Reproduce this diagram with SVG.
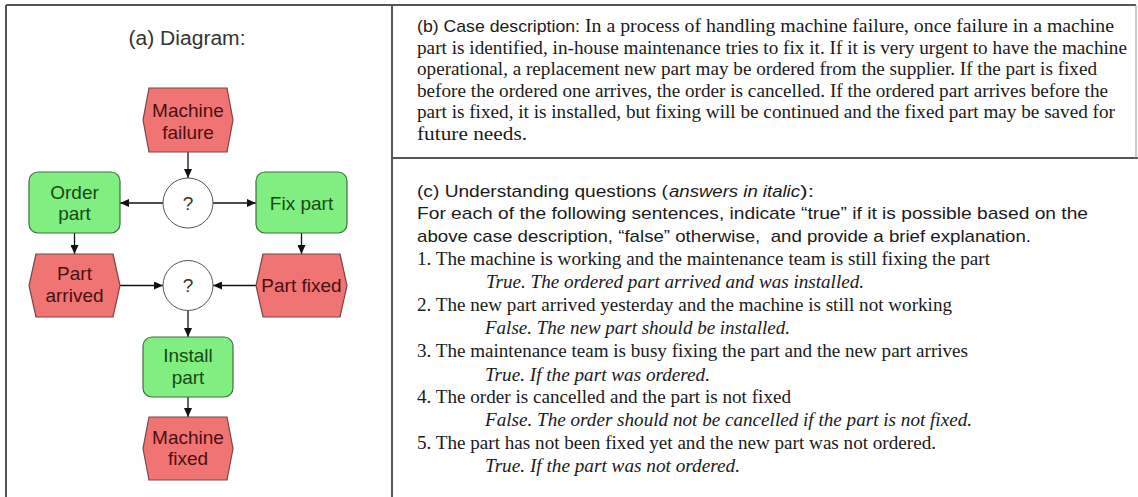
<svg xmlns="http://www.w3.org/2000/svg" width="1138" height="497" viewBox="0 0 1138 497">
<style>
.frame{stroke:#555;stroke-width:2;fill:none}
.hex{fill:#f07474;stroke:#7a4444;stroke-width:1.2}
.act{fill:#80ee80;stroke:#3f703f;stroke-width:1.2}
.gate{fill:#fff;stroke:#555;stroke-width:1}
.lbl{font-family:"Liberation Sans",Arial,sans-serif;font-size:19px;text-anchor:middle}
.rt{fill:#4a1010}
.gt{fill:#154a15}
.qt{fill:#333}
.conn path{stroke:#111;stroke-width:1.3;fill:none;marker-end:url(#ah)}
.sans{font-family:"Liberation Sans",Arial,sans-serif;font-size:17px;fill:#1a1a1a}
.serif{font-family:"Liberation Serif","Times New Roman",serif;font-size:18px;fill:#1a1a1a}
.it{font-style:italic}
</style>
<defs>
<marker id="ah" markerUnits="userSpaceOnUse" markerWidth="9" markerHeight="8" refX="9" refY="4" orient="auto">
<path d="M0,0 L9,4 L0,8 z" fill="#111"/>
</marker>
</defs>
<rect width="1138" height="497" fill="#fff"/>
<g id="frame">
<path class="frame" d="M6,5 H1136 M6,5 V497 M392,5 V497 M392,158 H1138"/>
<path d="M1136,5 V158" stroke="#999" stroke-width="1" fill="none"/>
</g>
<text class="lbl qt" x="187" y="45" textLength="117" lengthAdjust="spacingAndGlyphs" style="font-size:20px">(a) Diagram:</text>
<g class="conn" id="connectors">
<path d="M188,152 V178"/>
<path d="M163,203 H120"/>
<path d="M213,203 H256"/>
<path d="M74.5,233 V254"/>
<path d="M301.5,233 V254"/>
<path d="M120,285.5 H163"/>
<path d="M256,285.5 H213"/>
<path d="M188,310 V337"/>
<path d="M188,397 V417"/>
</g>
<g id="machine-failure">
<polygon class="hex" points="149,88 227,88 233,120 227,152 149,152 143,120"/>
<text class="lbl rt" x="188" y="117">Machine</text>
<text class="lbl rt" x="188" y="139">failure</text>
</g>
<g id="gate1">
<circle class="gate" cx="188" cy="203" r="25"/>
<text class="lbl qt" x="188" y="210">?</text>
</g>
<g id="order-part">
<rect class="act" x="29" y="172" width="91" height="61" rx="9"/>
<text class="lbl gt" x="74.5" y="199">Order</text>
<text class="lbl gt" x="74.5" y="220">part</text>
</g>
<g id="fix-part">
<rect class="act" x="256" y="172" width="91" height="61" rx="9"/>
<text class="lbl gt" x="301.5" y="210">Fix part</text>
</g>
<g id="part-arrived">
<polygon class="hex" points="36,254 113,254 120,285.5 113,317 36,317 29,285.5"/>
<text class="lbl rt" x="74.5" y="280">Part</text>
<text class="lbl rt" x="74.5" y="302">arrived</text>
</g>
<g id="gate2">
<circle class="gate" cx="188" cy="285.5" r="25"/>
<text class="lbl qt" x="188" y="292">?</text>
</g>
<g id="part-fixed">
<polygon class="hex" points="263,254 340,254 347,285.5 340,317 263,317 256,285.5"/>
<text class="lbl rt" x="301.5" y="292">Part fixed</text>
</g>
<g id="install-part">
<rect class="act" x="143" y="337" width="90" height="60" rx="9"/>
<text class="lbl gt" x="188" y="362">Install</text>
<text class="lbl gt" x="188" y="384">part</text>
</g>
<g id="machine-fixed">
<polygon class="hex" points="149,417 227,417 233,448.5 227,480 149,480 143,448.5"/>
<text class="lbl rt" x="188" y="444">Machine</text>
<text class="lbl rt" x="188" y="465">fixed</text>
</g>
<g id="case-description">
<text class="sans" x="417" y="32" textLength="163" lengthAdjust="spacingAndGlyphs">(b) Case description:</text>
<text class="serif" x="585" y="32" textLength="529" lengthAdjust="spacingAndGlyphs">In a process of handling machine failure, once failure in a machine</text>
<text class="serif" x="417" y="53.5" textLength="710" lengthAdjust="spacingAndGlyphs">part is identified, in-house maintenance tries to fix it. If it is very urgent to have the machine</text>
<text class="serif" x="417" y="75" textLength="680" lengthAdjust="spacingAndGlyphs">operational, a replacement new part may be ordered from the supplier. If the part is fixed</text>
<text class="serif" x="417" y="96.5" textLength="691" lengthAdjust="spacingAndGlyphs">before the ordered one arrives, the order is cancelled. If the ordered part arrives before the</text>
<text class="serif" x="417" y="118" textLength="698" lengthAdjust="spacingAndGlyphs">part is fixed, it is installed, but fixing will be continued and the fixed part may be saved for</text>
<text class="serif" x="417" y="139.5" textLength="110" lengthAdjust="spacingAndGlyphs">future needs.</text>
</g>
<g id="questions">
<text class="sans" x="417" y="197" textLength="251" lengthAdjust="spacingAndGlyphs">(c) Understanding questions (</text>
<text class="sans it" x="669" y="197" textLength="131" lengthAdjust="spacingAndGlyphs">answers in italic</text>
<text class="sans" x="800" y="197" textLength="14" lengthAdjust="spacingAndGlyphs">):</text>
<text class="sans" x="417" y="219" textLength="671" lengthAdjust="spacingAndGlyphs">For each of the following sentences, indicate “true” if it is possible based on the</text>
<text class="sans" x="417" y="242" textLength="614" lengthAdjust="spacingAndGlyphs">above case description, “false” otherwise,&#160; and provide a brief explanation.</text>
<text class="serif" x="417" y="265" textLength="573" lengthAdjust="spacingAndGlyphs">1. The machine is working and the maintenance team is still fixing the part</text>
<text class="serif it" x="486" y="288" textLength="378" lengthAdjust="spacingAndGlyphs">True. The ordered part arrived and was installed.</text>
<text class="serif" x="417" y="311" textLength="535" lengthAdjust="spacingAndGlyphs">2. The new part arrived yesterday and the machine is still not working</text>
<text class="serif it" x="485" y="334" textLength="305" lengthAdjust="spacingAndGlyphs">False. The new part should be installed.</text>
<text class="serif" x="417" y="357" textLength="551" lengthAdjust="spacingAndGlyphs">3. The maintenance team is busy fixing the part and the new part arrives</text>
<text class="serif it" x="485" y="381" textLength="225" lengthAdjust="spacingAndGlyphs">True. If the part was ordered.</text>
<text class="serif" x="417" y="403" textLength="374" lengthAdjust="spacingAndGlyphs">4. The order is cancelled and the part is not fixed</text>
<text class="serif it" x="485" y="426" textLength="487" lengthAdjust="spacingAndGlyphs">False. The order should not be cancelled if the part is not fixed.</text>
<text class="serif" x="417" y="449" textLength="519" lengthAdjust="spacingAndGlyphs">5. The part has not been fixed yet and the new part was not ordered.</text>
<text class="serif it" x="485" y="472" textLength="255" lengthAdjust="spacingAndGlyphs">True. If the part was not ordered.</text>
</g>
</svg>
